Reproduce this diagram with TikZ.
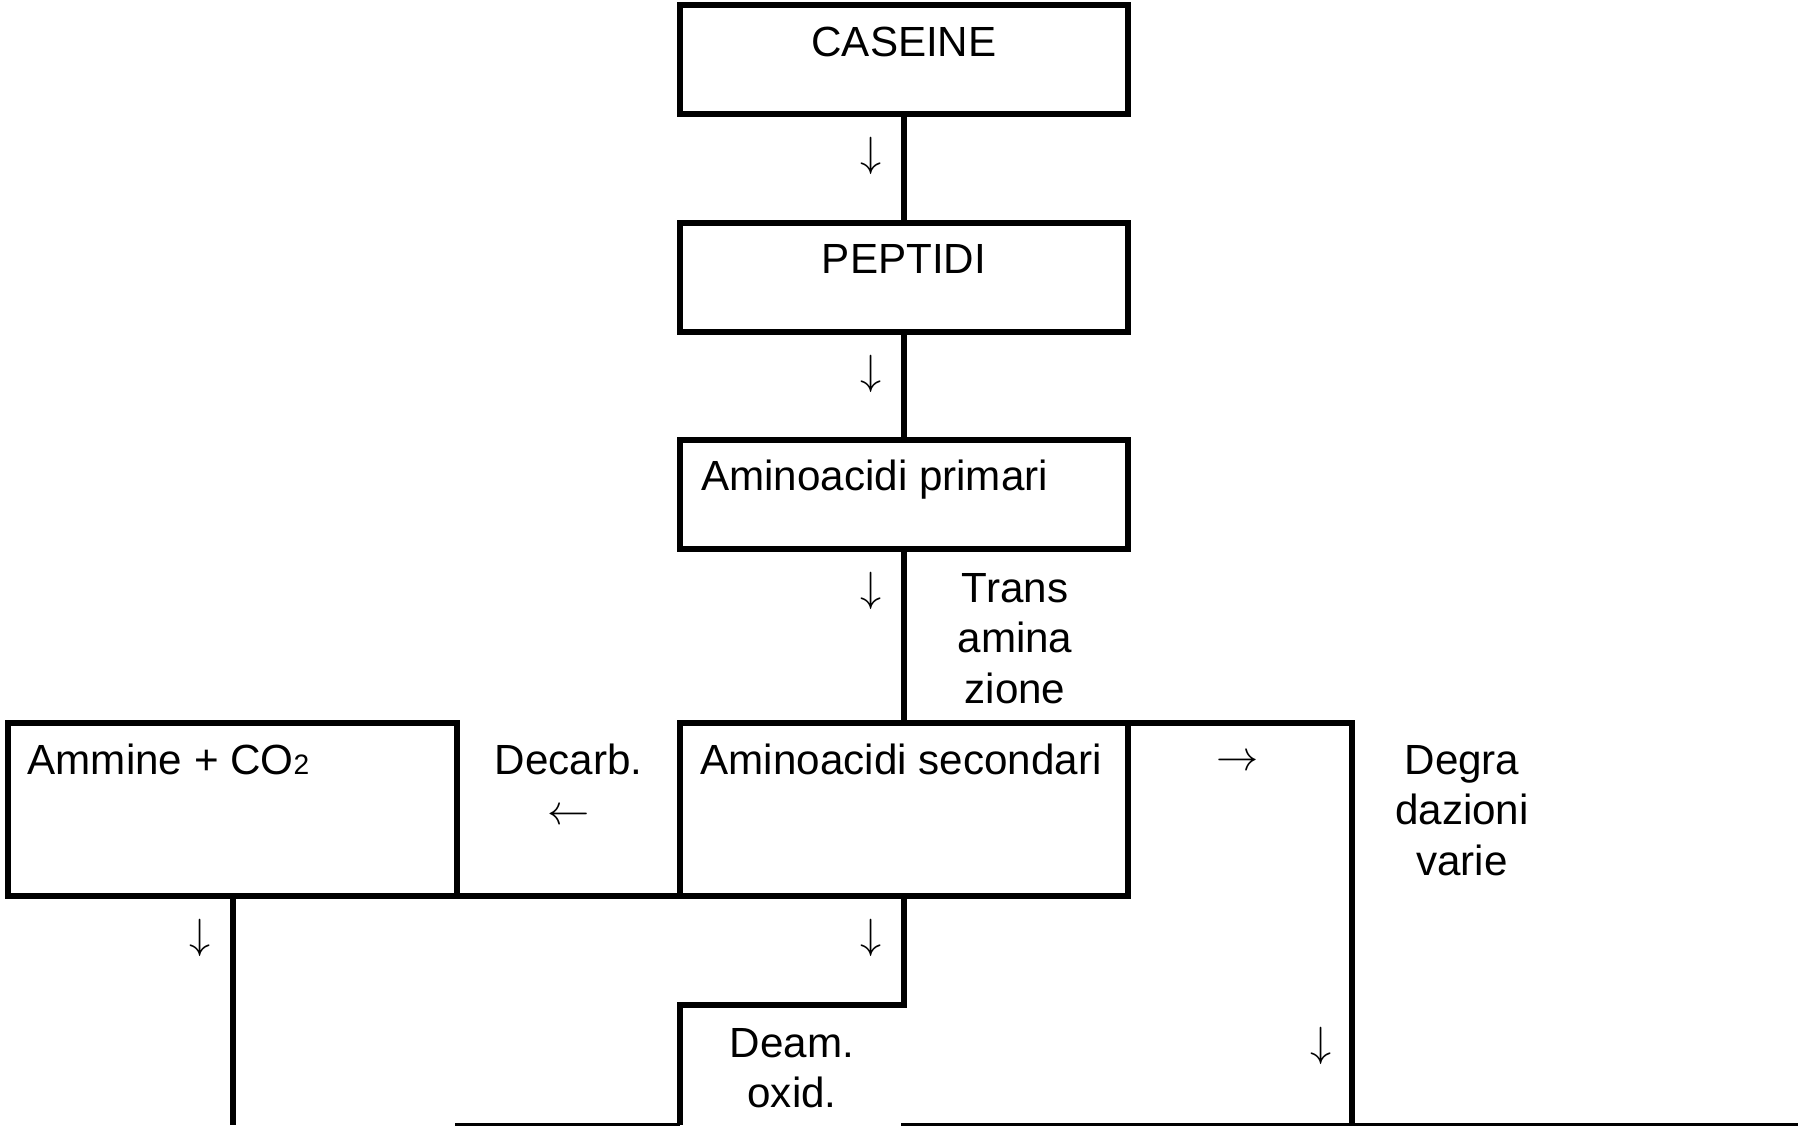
\documentclass[tikz,border=0pt]{standalone}
\usepackage{fontspec}
\setmainfont{Liberation Sans}
\usepackage{tikz}
\usetikzlibrary{positioning, calc}
\tikzset{
  flowbox/.style={draw, rectangle, line width=0.06cm, inner sep=0pt, outer sep=0pt,
                  minimum width=4.48cm, minimum height=1.09cm},
  link/.style={line width=0.06cm},
  thinline/.style={line width=0.025cm},
  lbl/.style={font=\fontsize{12}{14.4}\selectfont, inner sep=0pt, align=center},
  glyph/.style={font=\fontsize{12}{14.4}\selectfont, inner sep=0pt},
}

\begin{document}
\begin{tikzpicture}
  \useasboundingbox (0,0) rectangle (17.98,11.28);

  %% ── Main column ─────────────────────────────────────────────────────────

  \node[flowbox] (caseine) at (9.04,10.684) {};
  \node[flowbox] (peptidi) at (9.04,8.505) {};
  \node[flowbox] (primari) at (9.04,6.335) {};
  \node[flowbox, minimum height=1.725cm] (secondari) at (9.04,3.1875) {};

  \node[lbl, anchor=base] (tcas) at ([yshift=-0.51cm]caseine.north) {CASEINE};
  \node[lbl, anchor=base] (tpep) at ([yshift=-0.51cm]peptidi.north) {PEPTIDI};
  \node[lbl, anchor=base west] (tpri)
    at ([shift={(0.205,-0.51)}]primari.north west) {Aminoacidi primari};
  \node[lbl, anchor=base west] (tsec)
    at ([shift={(0.20,-0.51)}]secondari.north west) {Aminoacidi secondari};

  \draw[link] (caseine) -- (peptidi);
  \draw[link] (peptidi) -- (primari);
  \draw[link] (primari) -- (secondari);

  \node[glyph] (dcas) at ([shift={(-0.325,-0.42)}]caseine.south) {$\downarrow$};
  \node[glyph] (dpep) at ([shift={(-0.325,-0.42)}]peptidi.south) {$\downarrow$};
  \node[glyph] (dpri) at ([shift={(-0.325,-0.42)}]primari.south) {$\downarrow$};
  \node[lbl, anchor=base] (trans) at (10.15,4.244) {Trans\\amina\\zione};

  %% ── Decarboxylation (left) ──────────────────────────────────────────────

  \node[flowbox, minimum width=4.49cm, minimum height=1.725cm]
    (ammine) at (2.325,3.1875) {};
  \node[lbl, anchor=base west] (tamm)
    at ([shift={(0.19,-0.51)}]ammine.north west)
    {Ammine + CO{\fontsize{8}{8}\selectfont 2}};
  \node[lbl, anchor=base] (decarb) at (5.685,3.032) {Decarb.\\$\leftarrow$};

  \draw[link] (ammine.south east) -- (secondari.south west);

  %% ── Lower rows ──────────────────────────────────────────────────────────

  \coordinate (floor) at (0,0.035);
  \coordinate (floorL) at (4.55,0.035);
  \coordinate (floorR) at (9.01,0.035);
  \coordinate (floorE) at (17.98,0.035);
  \coordinate (deamcorner) at (6.80,1.235);
  \coordinate (degrfoot) at (13.52,0.035);

  \draw[link] (ammine.south) -- (ammine.south |- floor);
  \node[glyph] (damm) at ([shift={(-0.325,-0.42)}]ammine.south) {$\downarrow$};

  \draw[link] (secondari.south) |- (deamcorner) -- (deamcorner |- floor);
  \node[glyph] (dsec) at ([shift={(-0.325,-0.42)}]secondari.south) {$\downarrow$};
  \node[lbl, anchor=base] (deam) at (7.92,0.202) {Deam.\\oxid.};

  \draw[link] (secondari.north east) -| (degrfoot);
  \node[glyph] (rdeg) at (12.38,3.655) {$\rightarrow$};
  \node[glyph] (ddeg) at (13.21,0.82) {$\downarrow$};
  \node[lbl, anchor=base] (degr) at (14.62,2.524) {Degra\\dazioni\\varie};

  \draw[thinline] (floorL) -- (deamcorner |- floor);
  \draw[thinline] (floorR) -- (floorE);

\end{tikzpicture}
\end{document}
